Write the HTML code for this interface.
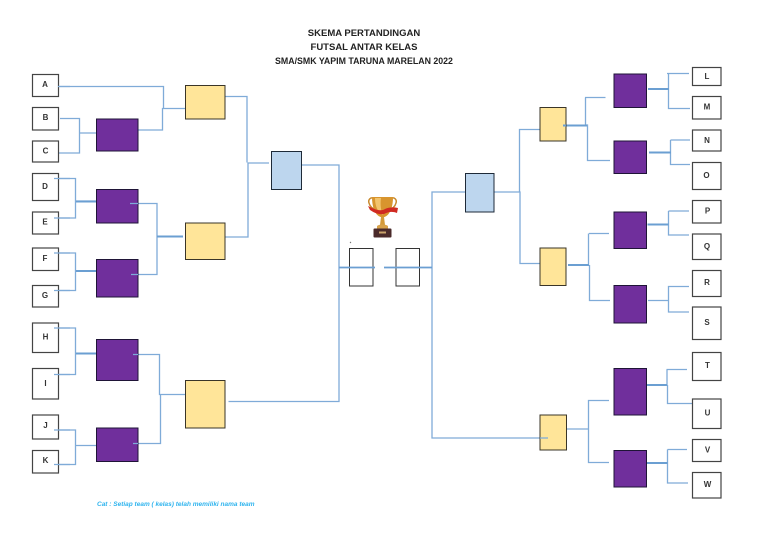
<!DOCTYPE html>
<html><head><meta charset="utf-8">
<style>
html,body{margin:0;padding:0;background:#fff;width:768px;height:543px;overflow:hidden}
svg{display:block;filter:blur(0.3px)}
text{font-family:"Liberation Sans",sans-serif}
.t{font-weight:bold;fill:#222;text-anchor:middle}
.l{font-weight:bold;font-size:8px;fill:#333;text-anchor:middle}
.w{fill:#fff;stroke:#444;stroke-width:1.2}
.p{fill:#702f9c;stroke:#1f1437;stroke-width:1}
.y{fill:#ffe599;stroke:#3a3528;stroke-width:1}
.b{fill:#bdd6ee;stroke:#1e2a38;stroke-width:1}
.c{fill:none;stroke:#7fabd8;stroke-width:1.3}
.d{fill:none;stroke:#6b9fd2;stroke-width:2}
</style></head><body>
<svg width="768" height="543" viewBox="0 0 768 543" xmlns="http://www.w3.org/2000/svg">
<text class="t" x="364" y="36" font-size="9.5">SKEMA PERTANDINGAN</text>
<text class="t" x="364" y="50" font-size="9.5">FUTSAL ANTAR KELAS</text>
<text class="t" x="364" y="64" font-size="8.8">SMA/SMK YAPIM TARUNA MARELAN 2022</text>

<!-- connectors left -->
<path class="c" d="M58 86.500H163.500V108M138 130H162.500V108.500H185.500"/>
<path class="c" d="M60 118.500H79.500V153H58M79.500 133H96"/>
<path class="c" d="M54 178.500H75.500V218H54M76 201H96"/>
<path class="d" d="M76 201.500H96"/>
<path class="c" d="M54 253H75.500V290.500H54"/>
<path class="d" d="M76 271H96"/>
<path class="c" d="M130 203.500H157V274.500H131"/>
<path class="d" d="M157 236.500H183"/>
<path class="c" d="M225 96.500H247V162.500M225 237H248V163H269"/>
<path class="c" d="M54 328H75.500V374.500H54"/>
<path class="d" d="M76 353.500H96"/>
<path class="c" d="M54 430H75.500V464.500H54M76 445.500H96"/>
<path class="c" d="M133 354.500H159.500V394.500H160.500V443.500H133M160 394.500H185.500"/>
<path class="c" d="M228.500 401.500H339V165H301"/>

<!-- connectors right -->
<path class="c" d="M494 192H519.500V129.500H540M519.500 192H520V263.500H541"/>
<path class="c" d="M432 267.500V192H465M432 267.500V438H540"/>
<path class="c" d="M585 97.500H605.500M585.500 97.500V125M585.500 125H587.500V160.500H610"/>
<path class="d" d="M566 125.500H587"/>
<path class="c" d="M589 233.500H609M588.500 233.500V265M589.500 265V300.500H610"/>
<path class="d" d="M568 265H589"/>
<path class="c" d="M667 73.500H689M668.500 89V108.500H690M668.500 89V73.500"/>
<path class="d" d="M648 89H669"/>
<path class="c" d="M670.500 140H690M670.500 152V164.500H690M670.500 152V140"/>
<path class="d" d="M649 152.500H671"/>
<path class="c" d="M668.500 211H689M668.500 224.500V235H689M668.500 224.500V211"/>
<path class="d" d="M647.500 224.500H668.500"/>
<path class="c" d="M648 300.500H669M668.500 300.500V286.500H689M668.500 300.500V312H689"/>
<path class="c" d="M567 429H588.500V400.500H609M588.500 429V462.500H609"/>
<path class="c" d="M666.500 369.500H687M667 385V369.500M667.500 385V403.500H693"/>
<path class="d" d="M646 385H667"/>
<path class="c" d="M667.500 449.500H687M667.500 463V449.500M667.500 463V483H688"/>
<path class="d" d="M646 463H667.500"/>

<!-- left team boxes -->
<rect class="w" x="32.500" y="74.500" width="26" height="22"/>
<rect class="w" x="32.500" y="107.500" width="26" height="22.500"/>
<rect class="w" x="32.500" y="141" width="26" height="21"/>
<rect class="w" x="32.500" y="173.500" width="26" height="27"/>
<rect class="w" x="32.500" y="212" width="26" height="22"/>
<rect class="w" x="32.500" y="248" width="26" height="22.500"/>
<rect class="w" x="32.500" y="285.500" width="26" height="21.500"/>
<rect class="w" x="32.500" y="323" width="26" height="29.500"/>
<rect class="w" x="32.500" y="368.500" width="26" height="30.500"/>
<rect class="w" x="32.500" y="415" width="26" height="24"/>
<rect class="w" x="32.500" y="450.500" width="26" height="22.500"/>
<path class="c" d="M58 86.500H70M54 178.500H70M54 218H70M54 253H70M54 290.500H70M54 328H70M54 374.500H70M54 430H70M54 464.500H70"/>

<!-- left rounds -->
<rect class="p" x="96.500" y="119" width="41.500" height="32"/>
<rect class="p" x="96.500" y="189.500" width="41.500" height="33.500"/>
<rect class="p" x="96.500" y="259.500" width="41.500" height="37.500"/>
<rect class="p" x="96.500" y="339.500" width="41.500" height="41"/>
<rect class="p" x="96.500" y="428" width="41.500" height="33.500"/>
<rect class="y" x="185.500" y="85.500" width="39.500" height="33.500"/>
<rect class="y" x="185.500" y="223" width="39.500" height="36.500"/>
<rect class="y" x="185.500" y="380.500" width="39.500" height="47.500"/>
<rect class="b" x="271.500" y="151.500" width="30" height="38"/>
<path class="c" d="M130 203.500H138M131 274.500H138M133 354.500H138M133 443.500H138"/>

<!-- centre -->
<rect x="349.500" y="248.500" width="23.500" height="37.500" fill="#fff" stroke="#333" stroke-width="1"/>
<rect x="396" y="248.500" width="23.500" height="37.500" fill="#fff" stroke="#333" stroke-width="1"/>
<path d="M339 267.500H375M384 267.500H432" fill="none" stroke="#6b9fd2" stroke-width="1.700"/>
<circle cx="350.500" cy="242.500" r="0.700" fill="#777"/>

<!-- trophy -->
<g>
<path d="M374 198c-4-1-6 2-5 5 1 4 4 6 8 7M391 198c4-1 6 2 5 5-1 4-4 6-8 7" fill="none" stroke="#c98a2e" stroke-width="1.500"/>
<path d="M372 197H393C393 207 390 215 384.500 217H380.500C375 215 372 207 372 197Z" fill="#d8952e"/>
<path d="M375 198H381C380 205 381 211 383 215C378 213 375 206 375 198Z" fill="#f2c46d"/>
<path d="M368 206C374 209 380 212 385 209C389 207 394 207 398 208L397 213C392 211 388 212 384 214C378 215 373 212 370 210Z" fill="#d02a22"/>
<path d="M381 217H384L385 225H380Z" fill="#d39a3a"/>
<path d="M377 226C379 224 386 224 388 226V229H377Z" fill="#d8a24a"/>
<rect x="373.500" y="228.500" width="18" height="9" rx="1" fill="#4a2a2a"/>
<rect x="379" y="231.500" width="7" height="2" fill="#c9a36a"/>
</g>

<!-- right rounds -->
<rect class="b" x="465.500" y="173.500" width="28.500" height="38.500"/>
<rect class="y" x="540" y="107.500" width="26" height="33.500"/>
<rect class="y" x="540" y="248" width="26" height="37.500"/>
<rect class="y" x="540" y="415" width="26.500" height="35"/>
<path class="c" d="M540 438H548"/>
<path class="d" d="M563 125.500H566"/>
<rect class="p" x="614" y="74" width="32.500" height="33.500"/>
<rect class="p" x="614" y="141" width="32.500" height="32.500"/>
<rect class="p" x="614" y="212" width="32.500" height="36.500"/>
<rect class="p" x="614" y="285.500" width="32.500" height="37.500"/>
<rect class="p" x="614" y="368.500" width="32.500" height="46.500"/>
<rect class="p" x="614" y="450.500" width="32.500" height="36.500"/>

<!-- right team boxes -->
<rect class="w" x="692.500" y="67.500" width="28.500" height="18"/>
<rect class="w" x="692.500" y="96.500" width="28.500" height="22.500"/>
<rect class="w" x="692.500" y="130" width="28.500" height="21"/>
<rect class="w" x="692.500" y="162.500" width="28.500" height="27"/>
<rect class="w" x="692.500" y="200.500" width="28.500" height="22.500"/>
<rect class="w" x="692.500" y="234" width="28.500" height="25.500"/>
<rect class="w" x="692.500" y="270.500" width="28.500" height="26"/>
<rect class="w" x="692.500" y="307" width="28.500" height="32.500"/>
<rect class="w" x="692.500" y="352.500" width="28.500" height="28"/>
<rect class="w" x="692.500" y="399" width="28.500" height="29.500"/>
<rect class="w" x="692.500" y="439.500" width="28.500" height="22"/>
<rect class="w" x="692.500" y="472.500" width="28.500" height="25.500"/>

<!-- labels -->
<text class="l" x="45" y="87">A</text>
<text class="l" x="45.500" y="120">B</text>
<text class="l" x="45.500" y="153.500">C</text>
<text class="l" x="45" y="189">D</text>
<text class="l" x="45" y="224.500">E</text>
<text class="l" x="45" y="261">F</text>
<text class="l" x="45" y="298">G</text>
<text class="l" x="45.500" y="339.500">H</text>
<text class="l" x="45.500" y="386">I</text>
<text class="l" x="45.500" y="428">J</text>
<text class="l" x="45.500" y="463">K</text>
<text class="l" x="707" y="79">L</text>
<text class="l" x="707" y="109.500">M</text>
<text class="l" x="707" y="143">N</text>
<text class="l" x="706.500" y="178">O</text>
<text class="l" x="707.500" y="213.500">P</text>
<text class="l" x="707" y="249">Q</text>
<text class="l" x="707" y="285">R</text>
<text class="l" x="707" y="325">S</text>
<text class="l" x="707.500" y="368">T</text>
<text class="l" x="707.500" y="415.500">U</text>
<text class="l" x="707.500" y="452.500">V</text>
<text class="l" x="707.500" y="487">W</text>

<text x="97" y="506" font-size="6.500" font-weight="bold" font-style="italic" fill="#2fb4ee">Cat : Setiap team ( kelas) telah memiliki nama team</text>
</svg>
</body></html>
